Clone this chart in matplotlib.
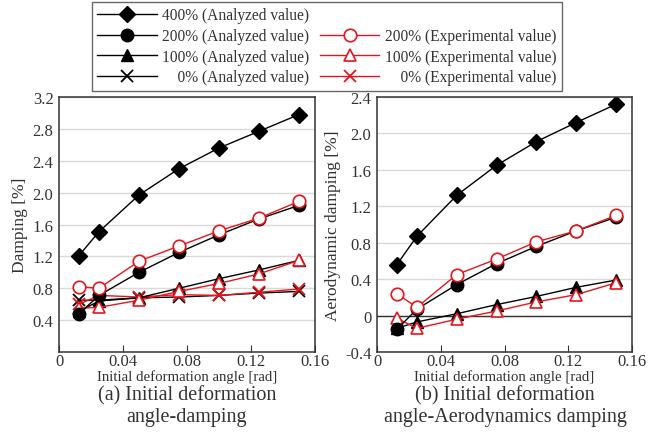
import numpy as np
import matplotlib.pyplot as plt
from matplotlib.lines import Line2D

plt.rcParams['font.family'] = ['Liberation Serif', 'DejaVu Serif']

# Начальный угол деформации [rad]
angle = [0.0125, 0.025, 0.05, 0.075, 0.1, 0.125, 0.15]

# (a) Damping [%]
damp_400_an = [1.21, 1.51, 1.97, 2.30, 2.56, 2.77, 2.98]
damp_200_an = [0.48, 0.71, 1.00, 1.25, 1.47, 1.67, 1.84]
damp_100_an = [0.51, 0.64, 0.68, 0.80, 0.92, 1.03, 1.15]
damp_0_an = [0.65, 0.65, 0.68, 0.69, 0.71, 0.74, 0.76]
damp_200_ex = [0.82, 0.80, 1.14, 1.33, 1.52, 1.68, 1.89]
damp_100_ex = [0.55, 0.56, 0.65, 0.76, 0.86, 0.98, 1.15]
damp_0_ex = [0.60, 0.71, 0.69, 0.72, 0.71, 0.75, 0.79]

# (b) Aerodynamic damping [%]
aero_400_an = [0.56, 0.87, 1.32, 1.65, 1.91, 2.12, 2.32]
aero_200_an = [-0.15, 0.07, 0.34, 0.57, 0.76, 0.93, 1.08]
aero_100_an = [-0.14, -0.07, 0.02, 0.12, 0.21, 0.31, 0.39]
aero_200_ex = [0.24, 0.09, 0.45, 0.62, 0.81, 0.93, 1.10]
aero_100_ex = [-0.03, -0.14, -0.04, 0.05, 0.15, 0.23, 0.36]

RED = '#e8141c'
TXT = '#333333'
ms = 9

fig = plt.figure(figsize=(6.56, 4.35), dpi=100)
ax1 = fig.add_axes([59 / 656, 1 - 353 / 435, 256 / 656, 255 / 435])
ax2 = fig.add_axes([377 / 656, 1 - 353 / 435, 255 / 656, 255 / 435])


def style(ax, ylim, yticks, ylabel):
    ax.set_xlim(0, 0.16)
    ax.set_ylim(*ylim)
    ax.set_xticks([0, 0.04, 0.08, 0.12, 0.16])
    ax.set_xticklabels(['0', '0.04', '0.08', '0.12', '0.16'])
    ax.set_yticks(yticks)
    ax.set_yticklabels([('%.1f' % t) if abs(t) > 1e-9 else '0' for t in yticks])
    ax.yaxis.grid(True, color='#d9d9d9', lw=1)
    ax.set_axisbelow(True)
    ax.tick_params(axis='x', direction='in', length=5, width=0.8, labelsize=12, pad=1,
                   color=TXT, labelcolor=TXT)
    ax.tick_params(axis='y', length=0, labelsize=12, pad=4, labelcolor=TXT)
    for s in ax.spines.values():
        s.set_color(TXT)
        s.set_linewidth(1.1)
    ax.set_xlabel('Initial deformation angle [rad]', fontsize=10.7, labelpad=0, color=TXT)
    ax.set_ylabel(ylabel, fontsize=12.5, labelpad=3, color=TXT)


# (a)
ax1.plot(angle, damp_0_an, 'k-', marker='x', ms=ms, mew=1.3, lw=1)
ax1.plot(angle, damp_0_ex, '-', color=RED, marker='x', ms=ms, mew=1.3, lw=1)
ax1.plot(angle, damp_100_an, 'k-', marker='^', ms=ms, lw=1)
ax1.plot(angle, damp_100_ex, '-', color=RED, marker='^', ms=ms, mfc='white', mew=1.2, lw=1)
ax1.plot(angle, damp_200_an, 'k-', marker='o', ms=ms, lw=1)
ax1.plot(angle, damp_200_ex, '-', color=RED, marker='o', ms=ms, mfc='white', mew=1.2, lw=1)
ax1.plot(angle, damp_400_an, 'k-', marker='D', ms=8, lw=1)
style(ax1, (0, 3.2), np.round(np.arange(0.4, 3.21, 0.4), 1), 'Damping [%]')

# (b)
ax2.axhline(0, color=TXT, lw=1)
ax2.plot(angle, aero_100_an, 'k-', marker='^', ms=ms, lw=1)
ax2.plot(angle, aero_100_ex, '-', color=RED, marker='^', ms=ms, mfc='white', mew=1.2, lw=1)
ax2.plot(angle, aero_200_an, 'k-', marker='o', ms=ms, lw=1)
ax2.plot(angle, aero_200_ex, '-', color=RED, marker='o', ms=ms, mfc='white', mew=1.2, lw=1)
ax2.plot(angle, aero_400_an, 'k-', marker='D', ms=8, lw=1)
style(ax2, (-0.4, 2.4), np.round(np.arange(-0.4, 2.41, 0.4), 1), 'Aerodynamic damping [%]')

# Подписи
fig.text(187 / 656, 1 - 396 / 435, '(a) Initial deformation', ha='center', va='center',
         fontsize=14.5, color=TXT)
fig.text(187 / 656, 1 - 418 / 435, 'angle-damping', ha='center', va='center',
         fontsize=14.5, color=TXT)
fig.text(505 / 656, 1 - 396 / 435, '(b) Initial deformation', ha='center', va='center',
         fontsize=14.5, color=TXT)
fig.text(505 / 656, 1 - 418 / 435, 'angle-Aerodynamics damping', ha='center', va='center',
         fontsize=14.5, color=TXT)

# Легенда
handles = [
    Line2D([], [], color='k', marker='D', ms=8, lw=1),
    Line2D([], [], color='k', marker='o', ms=ms, lw=1),
    Line2D([], [], color='k', marker='^', ms=ms, lw=1),
    Line2D([], [], color='k', marker='x', ms=ms, mew=1.3, lw=1),
    Line2D([], [], color='none'),
    Line2D([], [], color=RED, marker='o', ms=ms, mfc='white', mew=1.2, lw=1),
    Line2D([], [], color=RED, marker='^', ms=ms, mfc='white', mew=1.2, lw=1),
    Line2D([], [], color=RED, marker='x', ms=ms, mew=1.3, lw=1),
]
labels = [
    '400% (Analyzed value)',
    '200% (Analyzed value)',
    '100% (Analyzed value)',
    '\u2007\u20070% (Analyzed value)',
    '',
    '200% (Experimental value)',
    '100% (Experimental value)',
    '\u2007\u20070% (Experimental value)',
]
leg = fig.legend(handles, labels, ncol=2, loc='upper left', bbox_to_anchor=(92 / 656, 1 - 3 / 435),
                 fontsize=11.2, frameon=True, fancybox=False, edgecolor='#444444', handlelength=3.8,
                 handletextpad=0.35, columnspacing=0.7, labelspacing=0.3, borderpad=0.35,
                 borderaxespad=0, labelcolor=TXT)
leg.get_frame().set_linewidth(1.0)

fig.savefig('out.png', dpi=100)
